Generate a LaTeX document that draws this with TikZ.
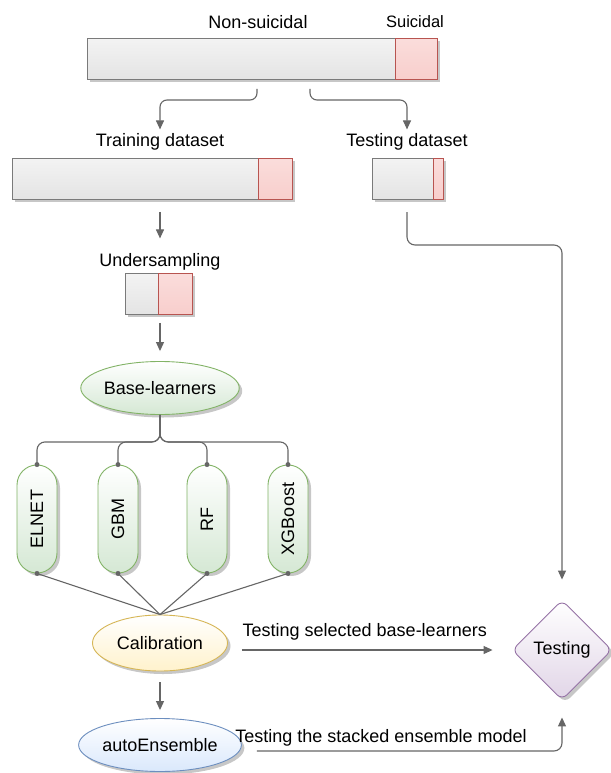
\documentclass[tikz,border=0pt]{standalone}
\usepackage{fontspec}
\setmainfont{Liberation Sans}
\usetikzlibrary{shapes.geometric,shadows,arrows.meta,calc}
\definecolor{conn}{HTML}{666666}
\definecolor{grayfill}{HTML}{E4E4E4}
\definecolor{barline}{HTML}{7A7A7A}
\definecolor{pinkfill}{HTML}{F8CECC}
\definecolor{pinkline}{HTML}{B85450}
\definecolor{greenfill}{HTML}{D5E8D4}
\definecolor{greenline}{HTML}{82B366}
\definecolor{yellowfill}{HTML}{FFF2CC}
\definecolor{yellowline}{HTML}{D6B656}
\definecolor{bluefill}{HTML}{DAE8FC}
\definecolor{blueline}{HTML}{6C8EBF}
\definecolor{purplefill}{HTML}{E1D5E7}
\definecolor{purpleline}{HTML}{9673A6}
\tikzset{
  lbl/.style={inner sep=0pt},
  shd/.style={drop shadow={shadow xshift=3pt,shadow yshift=-3pt,fill=black,opacity=0.22}},
  graybar/.style={draw=barline, line width=0.8pt, top color=grayfill!45!white, bottom color=grayfill, shd, inner sep=0pt, anchor=north west},
  pinkbar/.style={draw=pinkline, line width=0.8pt, top color=pinkfill!70!white, bottom color=pinkfill, shd, inner sep=0pt, anchor=north west},
  greenell/.style={ellipse, draw=greenline, line width=0.9pt, top color=white, bottom color=greenfill, shd, minimum width=135pt, minimum height=53pt, inner sep=0pt},
  yellowell/.style={ellipse, draw=yellowline, line width=0.9pt, top color=white, bottom color=yellowfill, shd, minimum width=135pt, minimum height=56pt, inner sep=0pt},
  blueell/.style={ellipse, draw=blueline, line width=0.9pt, top color=white, bottom color=bluefill, shd, minimum width=133pt, minimum height=53pt, inner sep=0pt},
  pill/.style={rectangle, rounded corners=20pt, draw=greenline, line width=0.9pt, top color=white, bottom color=greenfill, shd, minimum width=40pt, minimum height=108pt, inner sep=0pt},
  diam/.style={diamond, aspect=1, rounded corners=7pt, draw=purpleline, line width=0.9pt, top color=white, bottom color=purplefill, shd, minimum width=100pt, minimum height=100pt, inner sep=0pt},
  line/.style={draw=conn, line width=1.1pt},
  arr/.style={line, -{Triangle[length=9pt,width=8pt]}},
  dot/.style={circle, fill=conn, inner sep=0pt, minimum size=5pt},
}
\begin{document}
\begin{tikzpicture}[x=1pt,y=-1pt, font=\fontsize{18}{21}\selectfont]
\fill[white] (0,0) rectangle (610,773);
\useasboundingbox (0,0) rectangle (610,773);

% labels
\node[lbl] (nslbl) at (258,22) {Non-suicidal};
\node[lbl, font=\fontsize{16.5}{20}\selectfont] (slbl) at (415,22) {Suicidal};
\node[lbl] (trainlbl) at (160,142) {Training dataset};
\node[lbl] (testlbl) at (407,142) {Testing dataset};
\node[lbl] (undlbl) at (160,262) {Undersampling};

% bars
\node[graybar, minimum width=308pt, minimum height=41pt] (topg) at (87,38) {};
\node[pinkbar, minimum width=42pt, minimum height=41pt] (topp) at (395,38) {};
\node[graybar, minimum width=246pt, minimum height=41pt] (traing) at (12,158) {};
\node[pinkbar, minimum width=34pt, minimum height=41pt] (trainp) at (258,158) {};
\node[graybar, minimum width=61pt, minimum height=41pt] (testg) at (372,158) {};
\node[pinkbar, minimum width=10pt, minimum height=41pt] (testp) at (433,158) {};
\node[graybar, minimum width=33pt, minimum height=41pt] (undg) at (125,273) {};
\node[pinkbar, minimum width=34pt, minimum height=41pt] (undp) at (158,273) {};

% main nodes
\node[greenell] (bl) at (160,388) {Base-learners};
\node[pill] (p1) at (37,519) {\rotatebox{90}{ELNET}};
\node[pill] (p2) at (118,519) {\rotatebox{90}{GBM}};
\node[pill] (p3) at (207,519) {\rotatebox{90}{RF}};
\node[pill] (p4) at (288,519) {\rotatebox{90}{XGBoost}};
\node[yellowell] (cal) at (160,643) {Calibration};
\node[blueell] (auto) at (160,745) {autoEnsemble};
\node[diam] (test) at (562,650) {Testing};

% connector start points
\coordinate (topL) at (257,89);
\coordinate (topR) at (310,89);
\coordinate (tdB) at (407,212);

% connectors
\draw[arr, rounded corners=7pt] (topL) -- ++(0,11) -| ([yshift=4pt]trainlbl.north);
\draw[arr, rounded corners=7pt] (topR) -- ++(0,11) -| ([yshift=4pt]testlbl.north);
\draw[arr, shorten <=12pt, shorten >=15pt] (traing.south -| undlbl.north) -- (undlbl.north);
\draw[arr, shorten <=8pt, shorten >=10pt] (undg.south -| bl.north) -- (bl.north);

\foreach \p in {p1,p2,p3,p4}{
  \draw[line, rounded corners=8pt] (bl.south) -- ++(0,27) -| (\p.north);
  \draw[line] (\p.south) -- (cal.north);
  \node[dot] at (\p.north) {};
  \node[dot] at (\p.south) {};
}

\draw[arr, shorten <=11pt, shorten >=8pt] (cal.south) -- (auto.north);
\draw[arr] ($(cal.east)+(14,7)$) -- ($(test.west)+(-19,0)$)
  node[lbl, pos=0.49, above=9pt] {Testing selected base-learners};
\draw[arr, rounded corners=8pt] (tdB) -- ++(0,33) -| ([yshift=20pt]test.north);
\draw[arr, rounded corners=8pt] ($(auto.east)+(15,6)$) -| ([yshift=-17pt]test.south);
\node[lbl] (stlbl) at (381,738) {Testing the stacked ensemble model};
\end{tikzpicture}
\end{document}
